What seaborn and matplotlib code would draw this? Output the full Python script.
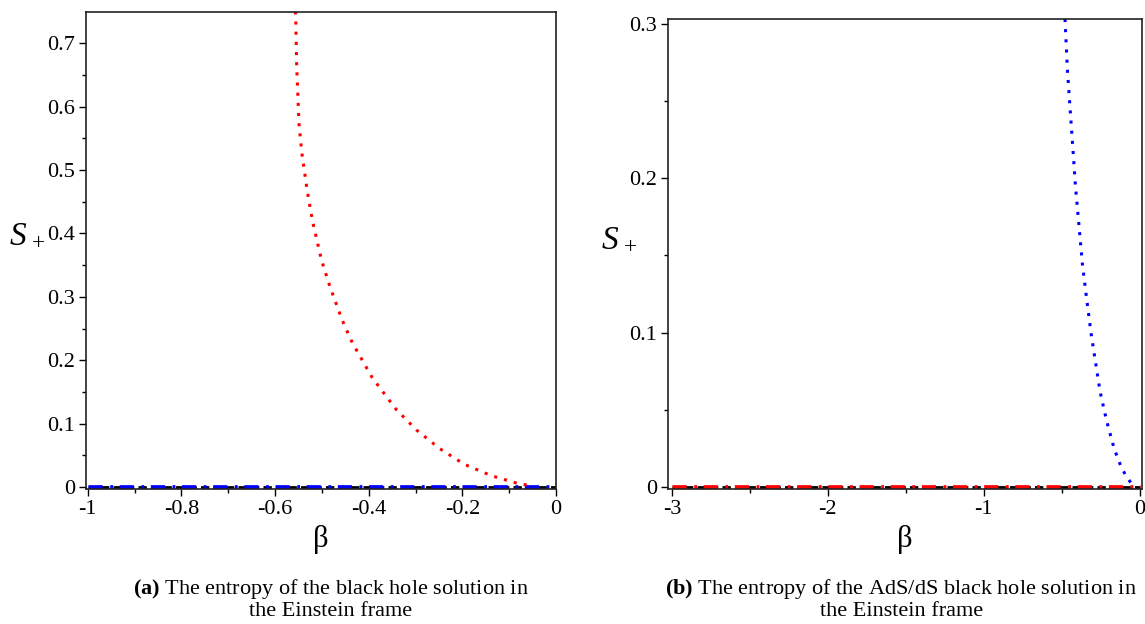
import numpy as np
import pandas as pd
import seaborn as sns
from matplotlib import pyplot as plt
from matplotlib.ticker import MultipleLocator

# values
# (a) left panel: red dotted curve, zero lines
beta_a = [-0.557, -0.556, -0.554, -0.549, -0.543, -0.531, -0.520, -0.501, -0.482,
          -0.460, -0.452, -0.435, -0.393, -0.342, -0.298, -0.249, -0.196, -0.138,
          -0.078, -0.048]
S_a = [0.750, 0.743, 0.665, 0.573, 0.527, 0.465, 0.419, 0.358, 0.314,
       0.270, 0.255, 0.2275, 0.173, 0.123, 0.090, 0.061, 0.036, 0.018,
       0.005, 0.002]
zero_beta_a = [-1.0, 0.0]

# (b) right panel: blue dotted curve, zero lines
beta_b = [-0.479, -0.464, -0.447, -0.429, -0.412, -0.367, -0.344, -0.312, -0.254,
          -0.213, -0.163, -0.118, -0.088, -0.052, -0.040]
S_b = [0.303, 0.271, 0.246, 0.220, 0.195, 0.144, 0.125, 0.0996, 0.0618,
       0.0432, 0.0246, 0.0128, 0.0073, 0.0021, 0.0005]
zero_beta_b = [-3.0, 0.0]
zero_S = [0.0, 0.0]

captions = [r"$\mathbf{(a)}$ The entropy of the black hole solution in" + "\nthe Einstein frame",
            r"$\mathbf{(b)}$ The entropy of the AdS/dS black hole solution in" + "\nthe Einstein frame"]

sns.set_style("ticks")
plt.rcParams['font.family'] = ['Liberation Serif', 'DejaVu Serif']
plt.rcParams['mathtext.fontset'] = 'custom'
plt.rcParams['mathtext.rm'] = 'Liberation Serif'
plt.rcParams['mathtext.it'] = 'Liberation Serif:italic'
plt.rcParams['mathtext.bf'] = 'Liberation Serif:bold'
plt.rcParams['text.color'] = 'black'
plt.rcParams['axes.labelcolor'] = 'black'
plt.rcParams['xtick.color'] = 'black'
plt.rcParams['ytick.color'] = 'black'

fig = plt.figure(figsize=(11.45, 6.24), dpi=100)
ax1 = fig.add_axes([0.0751, 0.2163, 0.4105, 0.7645])
ax2 = fig.add_axes([0.5834, 0.2163, 0.4140, 0.7533])

dot = (0, (1, 2.33))
dashdot = (0, (3.0, 1.6, 0.6, 1.4))

def draw_panel(ax, zb, cb, S, col_curve, col_zero):
    z = pd.DataFrame({'beta': zb, 'S': zero_S})
    c = pd.DataFrame({'beta': cb, 'S': S})
    sns.lineplot(data=z, x='beta', y='S', ax=ax, color='black', lw=2.0,
                 linestyle=(0, (3, 1.5)), estimator=None, sort=False)
    sns.lineplot(data=z, x='beta', y='S', ax=ax, color=col_zero, lw=3.4,
                 linestyle=dashdot, estimator=None, sort=False)
    sns.lineplot(data=c, x='beta', y='S', ax=ax, color=col_curve, lw=2.2,
                 linestyle=dot, estimator=None, sort=False)

draw_panel(ax1, zero_beta_a, beta_a, S_a, '#ff0000', '#0000ff')
draw_panel(ax2, zero_beta_b, beta_b, S_b, '#0000ff', '#ff0000')

ax1.set_xlim(-1.004, 0.0)
ax1.set_ylim(-0.003, 0.749)
ax1.xaxis.set_minor_locator(MultipleLocator(0.1))
ax1.yaxis.set_minor_locator(MultipleLocator(0.05))
ax1.set_xticks([-1, -0.8, -0.6, -0.4, -0.2, 0])
ax1.set_xticklabels(['-1', '-0.8', '-0.6', '-0.4', '-0.2', '0'])
ax1.set_yticks([0, 0.1, 0.2, 0.3, 0.4, 0.5, 0.6, 0.7])
ax1.set_yticklabels(['0', '0.1', '0.2', '0.3', '0.4', '0.5', '0.6', '0.7'])

ax2.set_xlim(-3.025, 0.015)
ax2.set_ylim(-0.0013, 0.303)
ax2.xaxis.set_minor_locator(MultipleLocator(0.5))
ax2.yaxis.set_minor_locator(MultipleLocator(0.05))
ax2.set_xticks([-3, -2, -1, 0])
ax2.set_xticklabels(['-3', '-2', '-1', '0'])
ax2.set_yticks([0, 0.1, 0.2, 0.3])
ax2.set_yticklabels(['0', '0.1', '0.2', '0.3'])

for ax, lx in zip([ax1, ax2], [-0.125, -0.103]):
    for s in ax.spines.values():
        s.set_visible(True)
        s.set_linewidth(1.2)
        s.set_color('#222222')
    ax.tick_params(which='major', direction='out', length=5, width=1, labelsize=16, pad=3)
    ax.tick_params(which='minor', direction='out', length=3, width=1)
    ax.set_xlabel('\u03b2', fontsize=22, labelpad=4)
    ax.set_ylabel('$S_{\\,+}$', fontsize=24, rotation=0)
    ax.yaxis.set_label_coords(lx, 0.5)

fig.text(0.289, 0.005, captions[0], ha='center', va='bottom', fontsize=16,
         multialignment='center', linespacing=1.05)
fig.text(0.787, 0.005, captions[1], ha='center', va='bottom', fontsize=16,
         multialignment='center', linespacing=1.05)

plt.savefig('out.png', dpi=100)
